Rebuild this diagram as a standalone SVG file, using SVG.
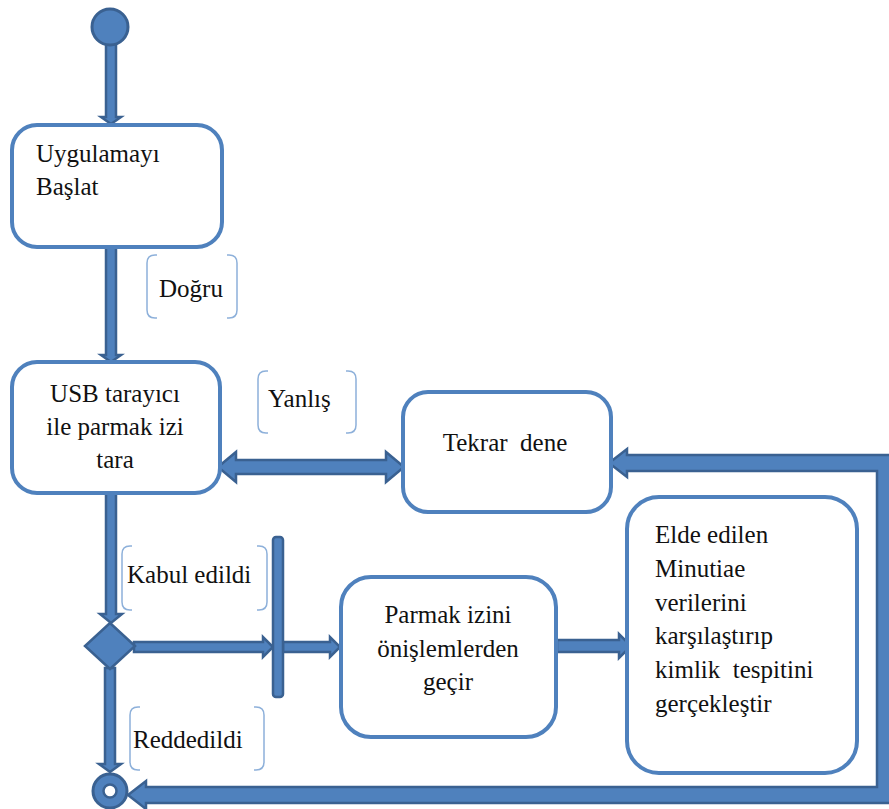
<svg xmlns="http://www.w3.org/2000/svg" width="889" height="809" viewBox="0 0 889 809">
  <style>
    .box { fill: #ffffff; stroke: #4F81BD; stroke-width: 4; }
    .conn { fill: #4F81BD; stroke: #3A6191; stroke-width: 2.5; stroke-linejoin: miter; }
    .brk { fill: none; stroke: #8DB0DA; stroke-width: 1.5; }
    text { font-family: 'Liberation Serif', 'DejaVu Serif', serif; font-size: 25px; fill: #111111; }
    .mid { text-anchor: middle; }
  </style>

  <!-- connectors -->
  <g id="connectors">
    <!-- start to Uygulamayı Başlat -->
    <polygon class="conn" points="106,44 116,44 116,117 121,117 111,124 101,117 106,117"/>
    <!-- Başlat to USB tarayıcı -->
    <polygon class="conn" points="106,247 116,247 116,355 121,355 111,362 101,355 106,355"/>
    <!-- USB tarayıcı to decision -->
    <polygon class="conn" points="106,493 116,493 116,614 122,614 111,623 100,614 106,614"/>
    <!-- decision to end -->
    <polygon class="conn" points="105,668 115,668 115,764 121,764 110,772 99,764 105,764"/>
    <!-- USB tarayıcı <-> Tekrar dene -->
    <polygon class="conn" points="218,467 236,452 236,460 386,460 386,452 404,467 386,482 386,474 236,474 236,482"/>
    <!-- loop back from the right edge to Tekrar dene and to the end -->
    <polygon class="conn" points="609,463 627,449 627,455 893,455 893,803 146,803 146,809 128,795 146,781 146,787 877,787 877,471 627,471 627,477"/>
    <!-- decision to fork -->
    <polygon class="conn" points="134,642 263,642 263,637 273,647 263,657 263,652 134,652"/>
    <!-- fork to Parmak izini -->
    <polygon class="conn" points="283,642 330,642 330,637 340,647 330,657 330,652 283,652"/>
    <!-- Parmak izini to Elde edilen -->
    <polygon class="conn" points="557,640 619,640 619,634 631,646 619,658 619,652 557,652"/>
  </g>

  <!-- start node -->
  <g id="start">
    <circle cx="110" cy="27" r="18" fill="#4F81BD" stroke="#3A6191" stroke-width="3"/>
  </g>

  <g font-family="Liberation Serif, DejaVu Serif, serif" font-size="25">
  <!-- Uygulamayı Başlat -->
  <g id="node-baslat">
    <rect class="box" x="12" y="125" width="210" height="122" rx="25"/>
    <text x="36" y="162">Uygulamayı</text>
    <text x="36" y="195">Başlat</text>
  </g>

  <!-- guard: Doğru -->
  <g id="label-dogru">
    <path class="brk" d="M157,255 H155 Q147,255 147,263 V310 Q147,318 155,318 H157"/>
    <path class="brk" d="M227,255 H229 Q237,255 237,263 V310 Q237,318 229,318 H227"/>
    <text x="159" y="297">Doğru</text>
  </g>

  <!-- USB tarayıcı ile parmak izi tara -->
  <g id="node-usb">
    <rect class="box" x="12" y="362" width="208" height="131" rx="25"/>
    <text class="mid" x="115" y="402">USB tarayıcı</text>
    <text class="mid" x="115" y="435">ile parmak izi</text>
    <text class="mid" x="115" y="468">tara</text>
  </g>

  <!-- guard: Yanlış -->
  <g id="label-yanlis">
    <path class="brk" d="M268,371 H266 Q258,371 258,379 V425 Q258,433 266,433 H268"/>
    <path class="brk" d="M346,371 H348 Q356,371 356,379 V425 Q356,433 348,433 H346"/>
    <text x="268" y="407">Yanlış</text>
  </g>

  <!-- Tekrar dene -->
  <g id="node-tekrar">
    <rect class="box" x="403" y="392" width="208" height="120" rx="25"/>
    <text class="mid" x="505" y="451" xml:space="preserve">Tekrar  dene</text>
  </g>

  <!-- guard: Kabul edildi -->
  <g id="label-kabul">
    <path class="brk" d="M132,546 H130 Q122,546 122,554 V602 Q122,610 130,610 H132"/>
    <path class="brk" d="M257,546 H259 Q267,546 267,554 V602 Q267,610 259,610 H257"/>
    <text x="127" y="583">Kabul edildi</text>
  </g>

  <!-- decision -->
  <g id="decision">
    <polygon points="110,623 135,646 110,669 85,646" fill="#4F81BD" stroke="#3A6191" stroke-width="2.5"/>
  </g>

  <!-- fork bar -->
  <g id="fork">
    <rect x="273" y="537" width="10" height="160" rx="3" fill="#4F81BD" stroke="#3A6191" stroke-width="2.5"/>
  </g>

  <!-- Parmak izini önişlemlerden geçir -->
  <g id="node-onisleme">
    <rect class="box" x="341" y="577" width="215" height="160" rx="30"/>
    <text class="mid" x="448" y="623">Parmak izini</text>
    <text class="mid" x="448" y="657">önişlemlerden</text>
    <text class="mid" x="448" y="690">geçir</text>
  </g>

  <!-- Elde edilen Minutiae verilerini karşılaştırıp kimlik tespitini gerçekleştir -->
  <g id="node-kimlik">
    <rect class="box" x="627" y="497" width="230" height="276" rx="32"/>
    <text x="655" y="543">Elde edilen</text>
    <text x="655" y="577">Minutiae</text>
    <text x="655" y="611">verilerini</text>
    <text x="655" y="644">karşılaştırıp</text>
    <text x="655" y="678" xml:space="preserve">kimlik  tespitini</text>
    <text x="655" y="712">gerçekleştir</text>
  </g>

  <!-- guard: Reddedildi -->
  <g id="label-red">
    <path class="brk" d="M140,707 H138 Q130,707 130,715 V762 Q130,770 138,770 H140"/>
    <path class="brk" d="M254,707 H256 Q264,707 264,715 V762 Q264,770 256,770 H254"/>
    <text x="133" y="748">Reddedildi</text>
  </g>
  </g>

  <!-- end node -->
  <g id="end">
    <circle cx="110" cy="791" r="17" fill="#4F81BD" stroke="#3A6191" stroke-width="3"/>
    <circle cx="110" cy="791" r="6.5" fill="#ffffff" stroke="#3A6191" stroke-width="2.5"/>
  </g>
</svg>
